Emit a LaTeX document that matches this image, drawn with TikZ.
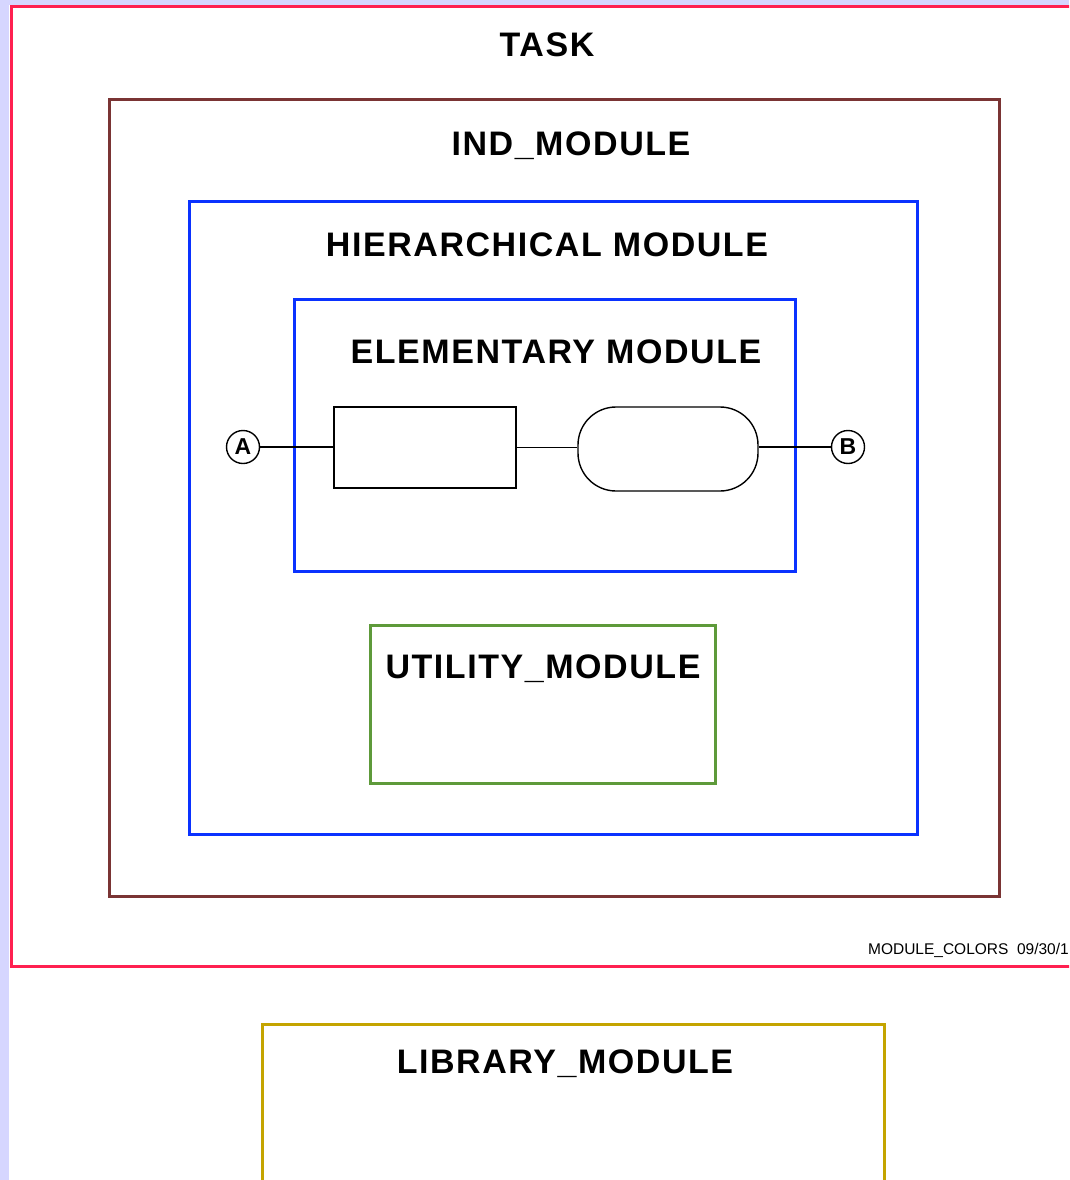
\documentclass[tikz,border=0pt]{standalone}
\usepackage{fontspec}
\setmainfont{Liberation Sans}
\newfontfamily\titlefont[LetterSpace=4.6]{Liberation Sans}
\begin{document}
\begin{tikzpicture}[x=1pt,y=-1pt,
  box/.style={draw,line width=3pt,inner sep=0pt,outer sep=0pt,anchor=north west},
  title/.style={anchor=base,font=\titlefont\fontsize{34}{40}\selectfont\bfseries,inner sep=0pt},
  blk/.style={draw=black,line width=1.4pt,inner sep=0pt},
  port/.style={draw=black,circle,line width=1.4pt,minimum size=33pt,inner sep=0pt,font=\fontsize{23}{24}\selectfont\bfseries},
  wire/.style={draw=black,line width=1.4pt}]
\definecolor{lav}{HTML}{D6D6FF}
\definecolor{taskred}{HTML}{FF2050}
\definecolor{indbrown}{HTML}{7A3434}
\definecolor{hblue}{HTML}{0A32FF}
\definecolor{ugreen}{HTML}{5E9A3A}
\definecolor{libyel}{HTML}{C4A400}
\useasboundingbox (0,0) rectangle (1069,1180);
\clip (0,0) rectangle (1069,1180);
\fill[white] (0,0) rectangle (1069,1180);
\fill[lav] (0,0) rectangle (9,1180);
\fill[lav] (0,0) rectangle (1069,5.5);
% boxes
\node[box,draw=taskred,minimum width=1080pt,minimum height=959pt] (task) at (11,7) {};
\node[box,draw=indbrown,minimum width=890pt,minimum height=796pt] (ind) at (109,100) {};
\node[box,draw=hblue,minimum width=728pt,minimum height=633pt] (hier) at (189,201) {};
\node[box,draw=hblue,minimum width=501pt,minimum height=272pt] (elem) at (294,299) {};
\node[box,draw=ugreen,minimum width=345pt,minimum height=158pt] (util) at (370,625) {};
\node[box,draw=libyel,minimum width=622pt,minimum height=200pt] (lib) at (262,1024) {};
% titles
\node[title] (tasklbl) at (547,57) {TASK};
\node[title] (indlbl) at (571,155) {IND\_MODULE};
\node[title] (hierlbl) at (547,256) {HIERARCHICAL MODULE};
\node[title] (elemlbl) at (556,363) {ELEMENTARY MODULE};
\node[title] (utillbl) at (543,678) {UTILITY\_MODULE};
\node[title] (liblbl) at (565,1073) {LIBRARY\_MODULE};
\node[anchor=base east,inner sep=0pt,font=\fontsize{15.5}{17}\selectfont] (stamp) at (1069,954) {MODULE\_COLORS\ \ 09/30/1};
% elementary contents
\node[blk,minimum width=182pt,minimum height=81pt] (r1) at (425,447.5) {};
\node[blk,rounded corners=38pt,minimum width=180pt,minimum height=84pt] (r2) at (668,449) {};
\node[port] (pa) at (243,447) {A};
\node[port] (pb) at (848,447) {B};
\draw[wire] (pa.east) -- (r1.west |- pa.east);
\draw[wire] (r1.east) -- (r2.west |- r1.east);
\draw[wire] (r2.east |- pb.west) -- (pb.west);
\end{tikzpicture}
\end{document}
